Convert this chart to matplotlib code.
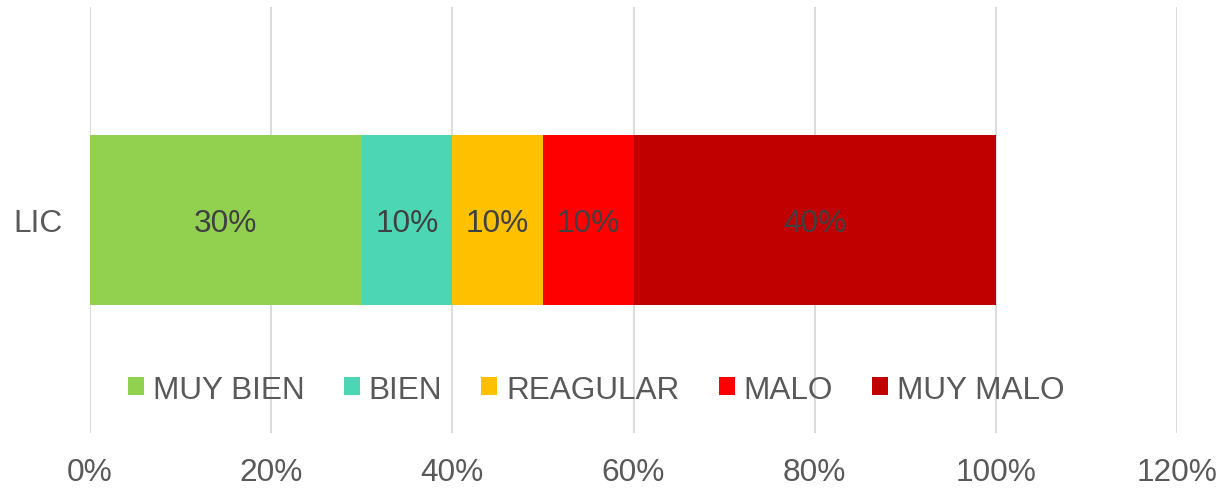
from matplotlib import pyplot as plt
from matplotlib.ticker import PercentFormatter

plt.rcParams['font.family'] = ['Liberation Sans', 'DejaVu Sans']

category = "LIC"
series = ["MUY BIEN", "BIEN", "REAGULAR", "MALO", "MUY MALO"]
values = [30, 10, 10, 10, 40]
colors = ["#92D050", "#4DD6B4", "#FFC000", "#FF0000", "#C00000"]
xticks = [0, 20, 40, 60, 80, 100, 120]

fig = plt.figure(figsize=(12.23, 4.89), dpi=100)
ax = fig.add_axes([90 / 1223, 1 - 434 / 489, 1087 / 1223, 426 / 489])

left = 0
for name, val, col in zip(series, values, colors):
    bars = ax.barh([category], [val], left=left, height=0.4, color=col, label=name, zorder=3)
    labels = ax.bar_label(bars, labels=[f"{val}%"], label_type="center", fontsize=22.8, color="#404040")
    for t in labels:
        t.xyann = (0, -2)
    left += val

ax.set_xlim(0, 120)
ax.set_ylim(-0.5, 0.5)
ax.set_xticks(xticks)
ax.xaxis.set_major_formatter(PercentFormatter(decimals=0))
ax.grid(axis="x", color="#D9D9D9", linewidth=1.3, zorder=0)
for s in ax.spines.values():
    s.set_visible(False)
ax.tick_params(axis="x", length=0, pad=17, labelsize=22.8, labelcolor="#595959")
ax.tick_params(axis="y", length=0, pad=20, labelsize=22.8, labelcolor="#595959")

leg = ax.legend(loc="center", bbox_to_anchor=(0.4655, 0.102), ncol=5, frameon=False,
                fontsize=22.7, handlelength=0.51, handleheight=0.51, handletextpad=0.27,
                columnspacing=1.25, borderaxespad=0)
for t in leg.get_texts():
    t.set_color("#595959")

fig.savefig("out.png", dpi=100)
